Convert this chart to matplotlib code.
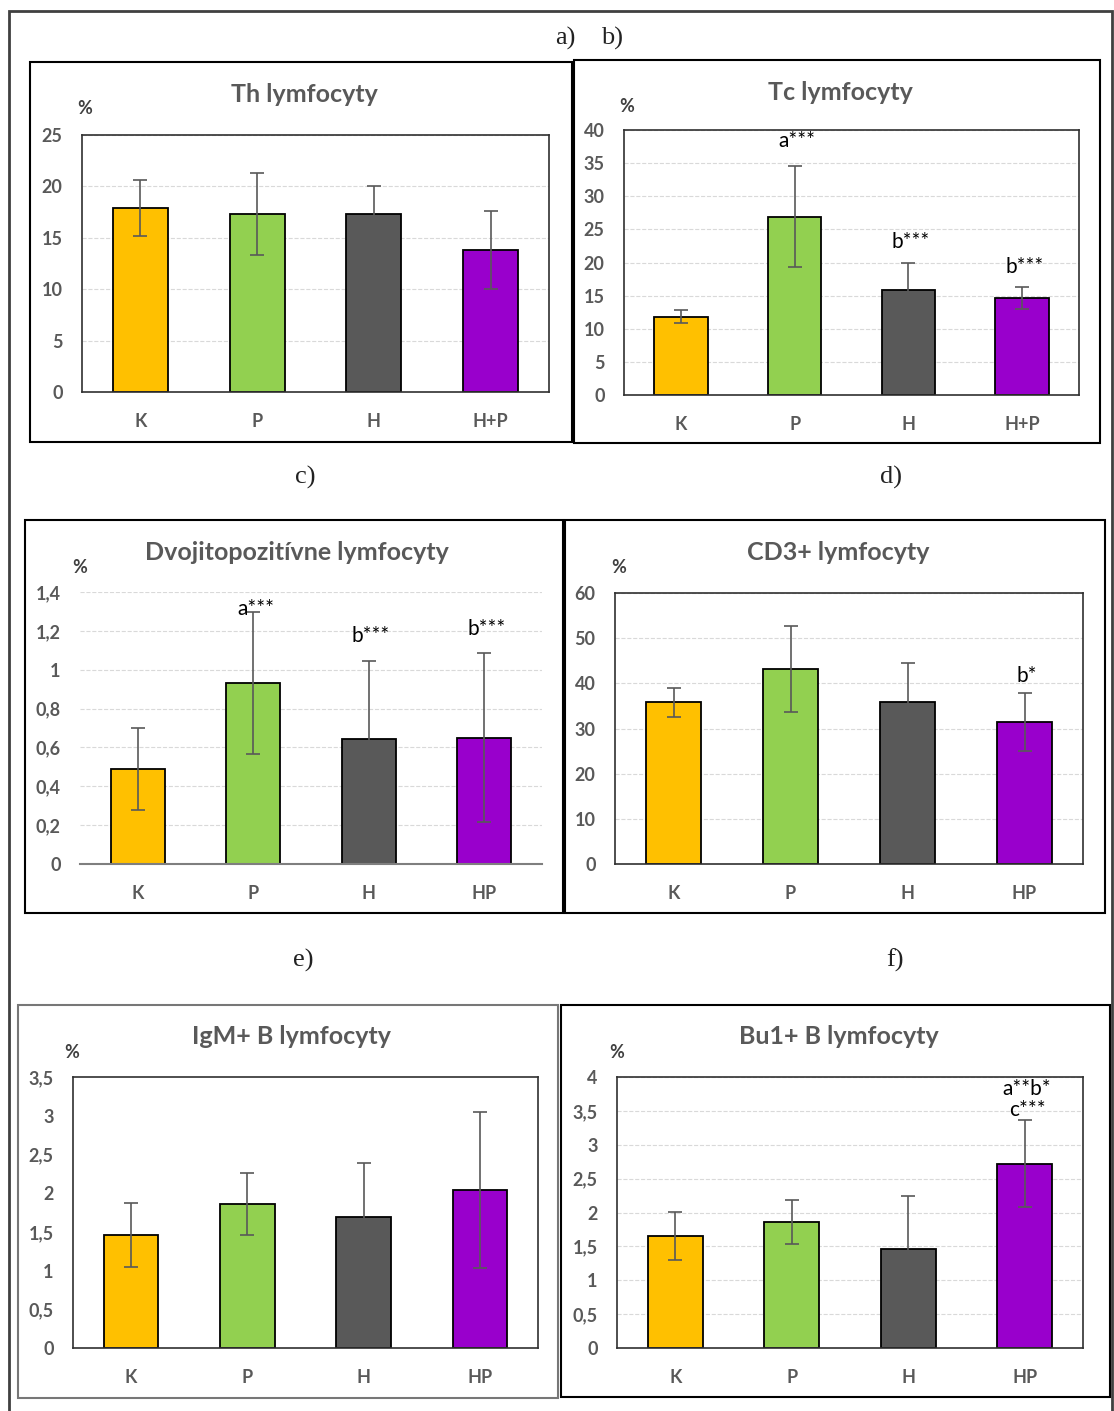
import matplotlib.pyplot as plt
from matplotlib.patches import Rectangle
import numpy as np

W, H = 1114, 1411

# data
colors = ["#FFC000", "#92D050", "#595959", "#9900CC"]
cats_a = ["K", "P", "H", "H+P"]
cats_c = ["K", "P", "H", "HP"]

th_val = [17.9, 17.3, 17.3, 13.8]
th_err = [2.7, 4.0, 2.7, 3.8]

tc_val = [11.8, 26.9, 15.9, 14.7]
tc_err = [1.0, 7.6, 4.1, 1.65]
tc_ann = ["", "a***", "b***", "b***"]
tc_ann_y = [0, 36.8, 21.6, 17.8]

dp_val = [0.49, 0.93, 0.645, 0.65]
dp_err = [0.21, 0.365, 0.40, 0.435]
dp_ann = ["", "a***", "b***", "b***"]
dp_ann_y = [0, 1.26, 1.12, 1.16]

cd3_val = [35.8, 43.2, 35.8, 31.4]
cd3_err = [3.2, 9.5, 8.6, 6.4]
cd3_ann = ["", "", "", "b*"]
cd3_ann_y = [0, 0, 0, 39.3]

igm_val = [1.46, 1.86, 1.69, 2.04]
igm_err = [0.41, 0.40, 0.70, 1.01]

bu1_val = [1.65, 1.86, 1.46, 2.72]
bu1_err = [0.355, 0.33, 0.78, 0.64]
bu1_ann = ["", "", "", "a**b*\nc***"]
bu1_ann_y = [0, 0, 0, 3.36]

plt.rcParams['font.family'] = ['Lato', 'DejaVu Sans']
plt.rcParams['font.weight'] = 'bold'
fig = plt.figure(figsize=(W/100, H/100), dpi=100)

def frac(x0, y0, x1, y1):
    # pixel box (top-left origin) -> figure fraction
    return [x0/W, 1 - y1/H, (x1-x0)/W, (y1-y0)/H]

def frame(x0, y0, x1, y1, lw=1.5, col="black"):
    fig.patches.append(Rectangle((x0/W, 1 - y1/H), (x1-x0)/W, (y1-y0)/H,
                                 transform=fig.transFigure, fill=False,
                                 lw=lw, ec=col, zorder=0))

def panel(box, area, title, cats, vals, errs, ymax, step, fmt, ann=None, ann_y=None,
          full=True, grid=True, title_y=None, pct=None, boxcol="black"):
    frame(*box, col=boxcol)
    ax = fig.add_axes(frac(*area))
    x = np.arange(4)
    ax.bar(x, vals, width=0.47, color=colors, edgecolor="black", lw=1.3, zorder=2)
    ax.errorbar(x, vals, yerr=errs, fmt="none", ecolor="#595959", elinewidth=1.2,
                capsize=5, capthick=1.2, zorder=3)
    ax.set_xlim(-0.5, 3.5)
    ax.set_ylim(0, ymax)
    ticks = np.arange(0, ymax + step/2, step)
    ax.set_yticks(ticks)
    ax.set_yticklabels([fmt(t) for t in ticks])
    ax.set_xticks(x)
    ax.set_xticklabels(cats)
    ax.tick_params(length=0, labelsize=13, labelcolor="#595959", pad=15)
    ax.tick_params(axis="y", pad=14)
    if grid:
        ax.yaxis.grid(True, color="#d9d9d9", ls="--", lw=0.8, zorder=0)
    ax.set_axisbelow(True)
    for s in ax.spines.values():
        s.set_linewidth(1.2)
        s.set_color("#303030")
    if not full:
        for s in ["left", "right", "top"]:
            ax.spines[s].set_visible(False)
        ax.spines["bottom"].set_color("#7f7f7f")
        ax.spines["bottom"].set_linewidth(1.5)
    if ann:
        for i in range(4):
            if ann[i]:
                ax.text(x[i] + 0.02, ann_y[i], ann[i], ha="center", va="bottom",
                        fontsize=15, fontweight="normal", color="black",
                        linespacing=1.1)
    cx = (box[0] + box[2]) / 2
    fig.text(cx/W + 0.003, 1 - title_y/H, title, ha="center", va="center",
             fontsize=18, fontweight="bold", color="#595959")
    fig.text(pct[0]/W, 1 - pct[1]/H, "%", ha="center", va="center",
             fontsize=13, fontweight="bold", color="#404040")
    return ax

def intf(t):
    return "%d" % round(t)

def comf(t):
    s = ("%.1f" % t).rstrip("0").rstrip(".")
    return s.replace(".", ",")

# outer border
fig.patches.append(Rectangle((9/W, -0.01), (1112-9)/W, 1.01 - 11/H,
                             transform=fig.transFigure, fill=False, lw=2,
                             ec="#404040", zorder=0))

panel((30, 62, 572, 442), (82, 135, 549, 392), "Th lymfocyty", cats_a,
      th_val, th_err, 25, 5, intf, title_y=95, pct=(85, 108))
panel((574, 60, 1100, 443), (624, 130, 1079, 395), "Tc lymfocyty", cats_a,
      tc_val, tc_err, 40, 5, intf, tc_ann, tc_ann_y, title_y=92, pct=(627, 106))
panel((25, 520, 563, 913), (80, 592, 542, 864), "Dvojitopozitívne lymfocyty", cats_c,
      dp_val, dp_err, 1.4, 0.2, comf, dp_ann, dp_ann_y, full=False,
      title_y=553, pct=(80, 567))
panel((565, 520, 1105, 913), (615, 593, 1083, 864), "CD3+ lymfocyty", cats_c,
      cd3_val, cd3_err, 60, 10, intf, cd3_ann, cd3_ann_y, title_y=553, pct=(619, 567))
panel((18, 1005, 558, 1398), (73, 1077, 538, 1348), "IgM+ B lymfocyty", cats_c,
      igm_val, igm_err, 3.5, 0.5, comf, grid=False, title_y=1037, pct=(72, 1052),
      boxcol="#777777")
panel((561, 1005, 1110, 1397), (617, 1077, 1083, 1348), "Bu1+ B lymfocyty", cats_c,
      bu1_val, bu1_err, 4, 0.5, comf, bu1_ann, bu1_ann_y, title_y=1037, pct=(617, 1052))

# panel letters
for lab, px, py in [("a)", 565, 38), ("b)", 612, 38), ("c)", 305, 477), ("d)", 891, 477),
                    ("e)", 303, 960), ("f)", 895, 960)]:
    fig.text(px/W, 1 - py/H, lab, ha="center", va="center", fontsize=19,
             fontweight="normal", family="Liberation Serif", color="#222222")

fig.savefig("out.png", dpi=100)
